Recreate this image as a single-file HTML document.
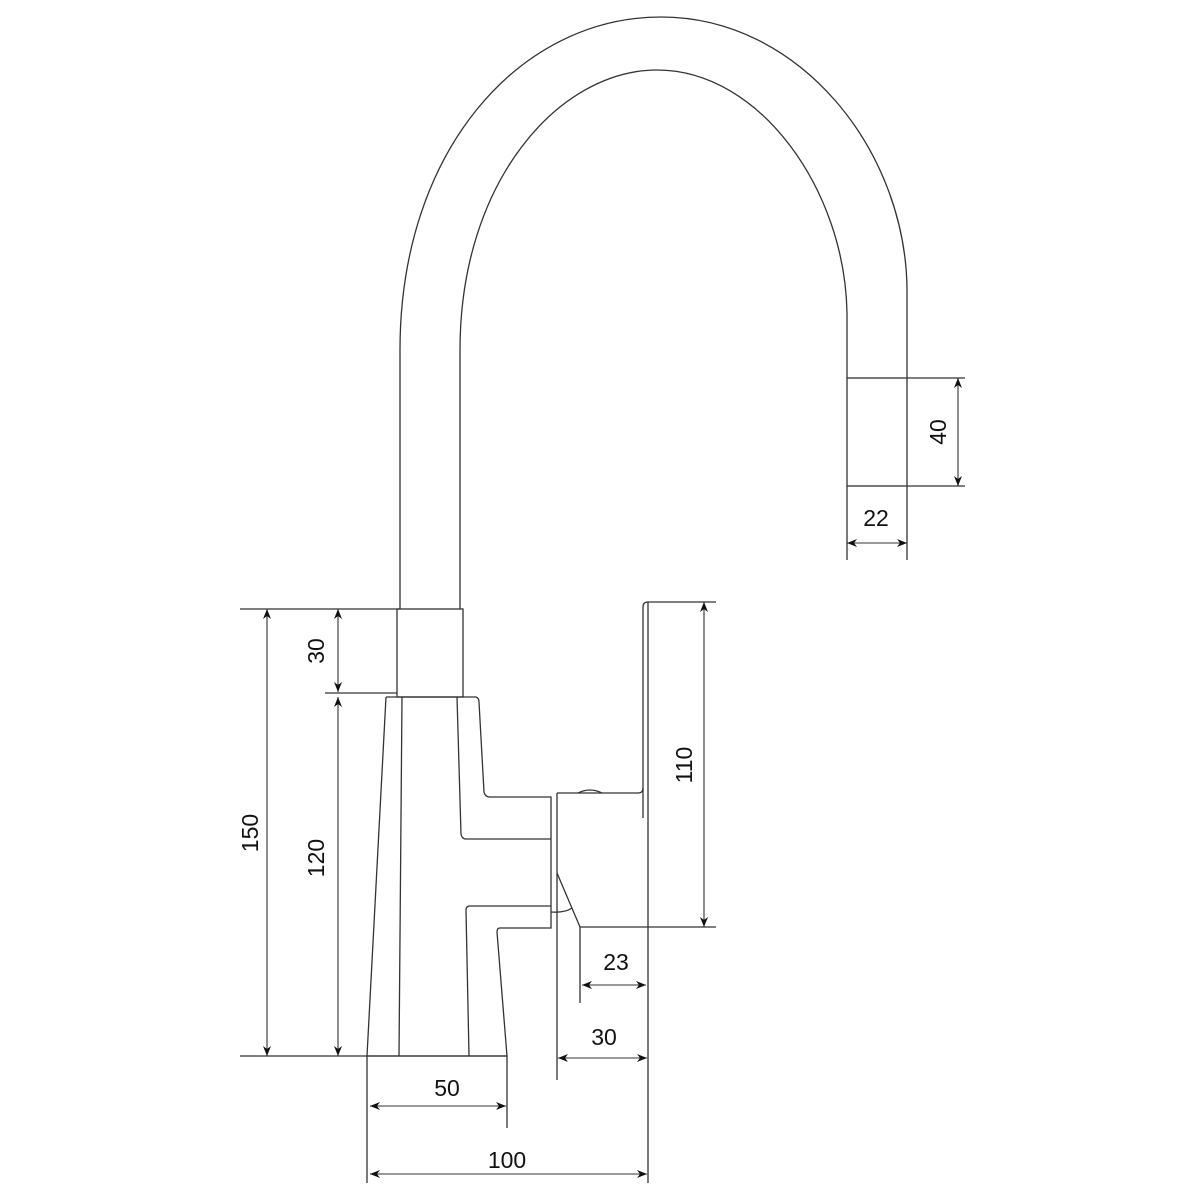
<!DOCTYPE html>
<html><head><meta charset="utf-8"><style>
html,body{margin:0;padding:0;background:#fff;}
svg{display:block;}
text{font-family:"Liberation Sans",sans-serif;font-size:23px;fill:#111;}
</style></head><body>
<svg width="1200" height="1200" viewBox="0 0 1200 1200" xmlns="http://www.w3.org/2000/svg">
<defs>
<marker id="a" viewBox="0 0 10 10" refX="10" refY="5" markerWidth="10" markerHeight="10" orient="auto-start-reverse" markerUnits="userSpaceOnUse">
<path d="M0,1 L10,5 L0,9 L3,5 z" fill="#111"/>
</marker>
</defs>
<g fill="none" stroke="#333" stroke-width="1.3">
<path d="M400,609 L400,350 C400,150 520,17 661,17 C800,17 905,150 907,288 L907,378"/>
<path d="M460,609 L460,350 C460,180 560,70 657,70 C760,70 845,190 847,313 L847,378"/>
<rect x="847" y="378" width="60" height="108"/>
<rect x="397" y="609" width="66" height="88"/>
<path d="M386,697 L476,697 Q479,698 479,702 L484,792 Q485,797 490,797 L551,797 L551,928 L500,928 Q497,928 497,932 L507,1056 L367,1056 L386,697"/>
<path d="M402,697 L399,1056"/>
<path d="M457,697 L461,834 Q462,839 466,839 L551,839"/>
<path d="M551,906 L470,906 Q466,906 466,910 L469,1056"/>
<path d="M557,793 L557,1080"/>
<path d="M557,793 L638,793 Q643,793 643,788 L643,607 Q643,602 648,602 L716,602"/>
<path d="M643,788 L643,818"/>
<path d="M578,793 Q590,787 602,793"/>
<path d="M557,873 L580,927 L716,927"/>
<path d="M551,912 Q565,913 572,908"/>
<path d="M580,927 L580,1003"/>
<path d="M648,602 L648,1183"/>
<path d="M240,609 L400,609"/>
<path d="M325,693 L397,693"/>
<path d="M240,1056 L507,1056"/>
<path d="M367,1056 L367,1183"/>
<path d="M507,1056 L507,1128"/>
<path d="M907,378 L965,378"/>
<path d="M907,486 L965,486"/>
<path d="M847,486 L847,560"/>
<path d="M907,486 L907,560"/>
</g>
<g fill="none" stroke="#333" stroke-width="1.1" marker-start="url(#a)" marker-end="url(#a)">
<line x1="267" y1="609" x2="267" y2="1056"/>
<line x1="338" y1="609" x2="338" y2="692"/>
<line x1="338" y1="697" x2="338" y2="1056"/>
<line x1="704" y1="602" x2="704" y2="927"/>
<line x1="582" y1="985" x2="646" y2="985"/>
<line x1="558" y1="1058" x2="647" y2="1058"/>
<line x1="370" y1="1106" x2="506" y2="1106"/>
<line x1="370" y1="1174" x2="647" y2="1174"/>
<line x1="958" y1="378" x2="958" y2="486"/>
<line x1="847" y1="543" x2="907" y2="543"/>
</g>
<g text-anchor="middle">
<text transform="translate(258,833) rotate(-90)">150</text>
<text transform="translate(324,651) rotate(-90)">30</text>
<text transform="translate(324,858) rotate(-90)">120</text>
<text transform="translate(692,765) rotate(-90)">110</text>
<text transform="translate(946,432) rotate(-90)">40</text>
<text x="876" y="526">22</text>
<text x="616" y="970">23</text>
<text x="604" y="1045">30</text>
<text x="447" y="1096">50</text>
<text x="507" y="1168">100</text>
</g>
</svg>
</body></html>
